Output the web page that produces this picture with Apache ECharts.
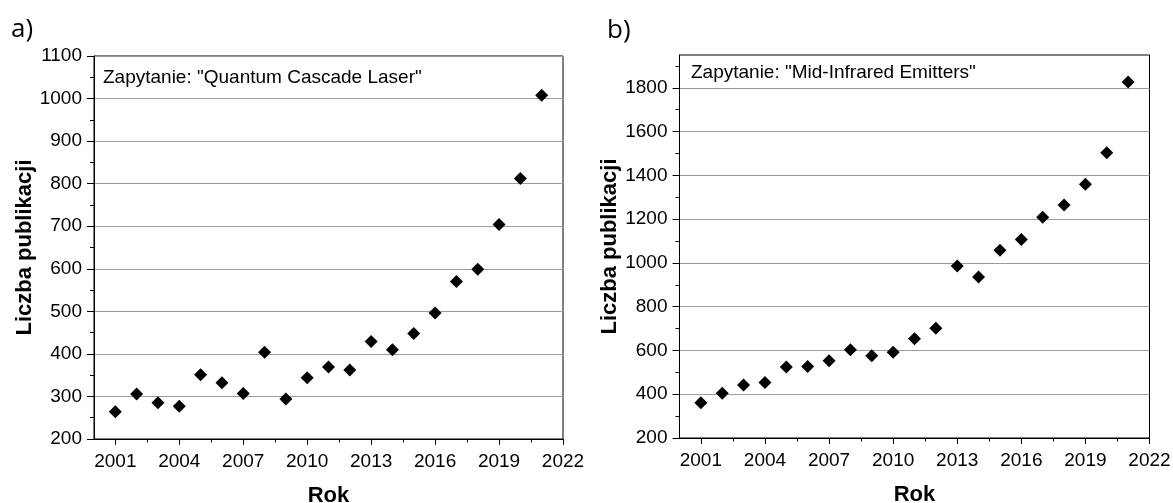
<!DOCTYPE html>
<html>
<head>
<meta charset="utf-8">
<title>Liczba publikacji</title>
<script src="https://cdn.jsdelivr.net/npm/echarts@6/dist/echarts.min.js"></script>
<style>
  html, body { margin: 0; padding: 0; background: #fff; }
  #chart { width: 1173px; height: 503px; }
</style>
</head>
<body>
<div id="chart"></div>
<script>
// Publication years and yearly counts for the two search queries
const years = [2001, 2002, 2003, 2004, 2005, 2006, 2007, 2008, 2009, 2010, 2011,
               2012, 2013, 2014, 2015, 2016, 2017, 2018, 2019, 2020, 2021];
const qclCounts = [264, 306, 285, 277, 351, 332, 307, 404, 294, 344, 369,
                   362, 429, 410, 448, 496, 570, 599, 704, 812, 1008];
const midIrCounts = [361, 404, 442, 454, 524, 527, 553, 603, 576, 592, 654,
                     702, 986, 936, 1058, 1107, 1209, 1265, 1360, 1503, 1827];

// Axis ticks
const xMajorTicks = [2001, 2004, 2007, 2010, 2013, 2016, 2019, 2022];
const xMinorTicks = [2002.5, 2005.5, 2008.5, 2011.5, 2014.5, 2017.5, 2020.5];
const leftYMajorTicks = [200, 300, 400, 500, 600, 700, 800, 900, 1000, 1100];
const leftYMinorTicks = [250, 350, 450, 550, 650, 750, 850, 950, 1050];
const rightYMajorTicks = [200, 400, 600, 800, 1000, 1200, 1400, 1600, 1800];
const rightYMinorTicks = [300, 500, 700, 900, 1100, 1300, 1500, 1700, 1900];

// Texts
const panelLabels = ['a)', 'b)'];
const queryLabels = ['Zapytanie: "Quantum Cascade Laser"', 'Zapytanie: "Mid-Infrared Emitters"'];
const xName = 'Rok';
const yName = 'Liczba publikacji';

const FONT = '"Liberation Sans", Arial, sans-serif';
const GRID_COLOR = '#9c9c9c';

function pairs(xs, ys) { return xs.map((x, i) => [x, ys[i]]); }
const plain = v => String(v);

function xMajor(gridIndex) {
  return {
    gridIndex, type: 'value', min: 2000, max: 2022, position: 'bottom',
    axisLine: { show: true, onZero: false, lineStyle: { color: '#000', width: 1 } },
    axisTick: { show: true, customValues: xMajorTicks, length: 6, lineStyle: { color: '#000', width: 1 } },
    axisLabel: { customValues: xMajorTicks, formatter: plain, color: '#000', fontSize: 19, fontFamily: FONT, margin: 13 },
    splitLine: { show: false },
    name: xName, nameLocation: 'middle', nameGap: 46,
    nameTextStyle: { color: '#000', fontSize: 22, fontWeight: 'bold', fontFamily: FONT }
  };
}
function xMinor(gridIndex) {
  return {
    gridIndex, type: 'value', min: 2000, max: 2022, position: 'bottom',
    axisLine: { show: false },
    axisTick: { show: true, customValues: xMinorTicks, length: 3.5, lineStyle: { color: '#000', width: 1 } },
    axisLabel: { show: false },
    splitLine: { show: false }
  };
}
function yMajor(gridIndex, max, ticks, gap) {
  return {
    gridIndex, type: 'value', min: 200, max, position: 'left',
    axisLine: { show: true, onZero: false, lineStyle: { color: '#000', width: 1 } },
    axisTick: { show: true, customValues: ticks, length: 7, lineStyle: { color: '#000', width: 1 } },
    axisLabel: { customValues: ticks, formatter: plain, color: '#000', fontSize: 19, fontFamily: FONT, margin: 12 },
    splitLine: { show: true, lineStyle: { color: GRID_COLOR, width: 1 } },
    name: yName, nameLocation: 'middle', nameGap: gap, nameRotate: 90,
    nameTextStyle: { color: '#000', fontSize: 22, fontWeight: 'bold', fontFamily: FONT }
  };
}
function yMinor(gridIndex, max, ticks) {
  return {
    gridIndex, type: 'value', min: 200, max, position: 'left',
    axisLine: { show: false },
    axisTick: { show: true, customValues: ticks, length: 4, lineStyle: { color: '#000', width: 1 } },
    axisLabel: { show: false },
    splitLine: { show: false }
  };
}
function scatter(xIdx, yIdx, values) {
  return {
    type: 'scatter', xAxisIndex: xIdx, yAxisIndex: yIdx,
    data: pairs(years, values),
    symbol: 'diamond', symbolSize: 13,
    itemStyle: { color: '#000', opacity: 1 },
    silent: true
  };
}
function text(x, y, str, font) {
  return {
    type: 'text', left: x, top: y, silent: true,
    style: { text: str, fill: '#000', font }
  };
}

const chart = echarts.init(document.getElementById('chart'), null, { renderer: 'canvas' });
chart.setOption({
  animation: false,
  backgroundColor: '#fff',
  grid: [
    { left: 94, top: 56, width: 469, height: 383, show: true, borderColor: '#000', borderWidth: 1,
      containLabel: false, outerBoundsMode: 'none' },
    { left: 679.5, top: 55, width: 470, height: 383, show: true, borderColor: '#000', borderWidth: 1,
      containLabel: false, outerBoundsMode: 'none' }
  ],
  xAxis: [xMajor(0), xMinor(0), xMajor(1), xMinor(1)],
  yAxis: [
    yMajor(0, 1100, leftYMajorTicks, 53), yMinor(0, 1100, leftYMinorTicks),
    yMajor(1, 1950, rightYMajorTicks, 53), yMinor(1, 1950, rightYMinorTicks)
  ],
  series: [scatter(0, 0, qclCounts), scatter(2, 2, midIrCounts)],
  graphic: [
    text(11, 17, panelLabels[0], '26px "Open Sans", sans-serif'),
    text(607, 18, panelLabels[1], '26px "Open Sans", sans-serif'),
    text(103, 68, queryLabels[0], '19px ' + FONT),
    text(691, 63.5, queryLabels[1], '19px ' + FONT)
  ]
});
</script>
</body>
</html>
